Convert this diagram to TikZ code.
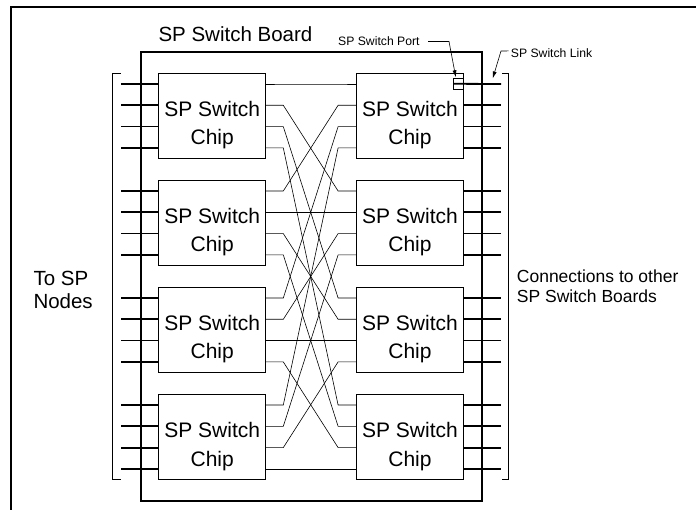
\documentclass[tikz,border=0pt]{standalone}
\usepackage{fontspec}
\setmainfont{Liberation Sans}
\usetikzlibrary{calc,arrows.meta}
\begin{document}
\begin{tikzpicture}[x=1pt,y=1pt,
  chip/.style={draw, line width=0.8pt, minimum width=107pt, minimum height=85pt,
    inner sep=0pt, outer sep=0pt, align=center, font=\fontsize{21}{28.3}\selectfont},
  boardbox/.style={draw, line width=2pt, inner sep=0pt, outer sep=0pt},
  ext/.style={line width=1.8pt},
  wire/.style={line width=0.6pt},
  brk/.style={line width=0.9pt},
  lead/.style={line width=0.6pt},
  tip/.style={-{Latex[length=7pt,width=4pt]}},
  small/.style={font=\fontsize{12.2}{14}\selectfont, inner sep=0pt},
]
\useasboundingbox (0,0) rectangle (696,-510);
% outer frame
\draw[line width=2pt] (11,-512) -- (11,-7.5) -- (697,-7.5);
% board
\node[boardbox, minimum width=341.3pt, minimum height=448.7pt] (board) at (311.35,-276.65) {};
\node[font=\fontsize{20.5}{24}\selectfont, anchor=base west, inner sep=0pt] (title) at (158.3,-41.7) {SP Switch Board};
% chips
\foreach \c in {1,...,4} {
  \node[chip] (L\c) at (212.2,{-115.8-107*(\c-1)}) {\rule{0pt}{35.1pt}SP Switch\\Chip\rule[-5pt]{0pt}{5pt}};
  \node[chip] (R\c) at (410,{-115.8-107*(\c-1)}) {\rule{0pt}{35.1pt}SP Switch\\Chip\rule[-5pt]{0pt}{5pt}};
}
% port coordinates
\foreach \c in {1,...,4} {
  \foreach \k in {1,...,4} {
    \coordinate (L\c w\k) at ($(L\c.north west)+(0,{-10.7-21.3*(\k-1)})$);
    \coordinate (L\c e\k) at ($(L\c.north east)+(0,{-10.7-21.3*(\k-1)})$);
    \coordinate (R\c w\k) at ($(R\c.north west)+(0,{-10.7-21.3*(\k-1)})$);
    \coordinate (R\c e\k) at ($(R\c.north east)+(0,{-10.7-21.3*(\k-1)})$);
  }
}
% port box
\node[draw, line width=0.7pt, minimum width=9.8pt, minimum height=11pt, inner sep=0pt, outer sep=0pt] (port) at (458.4,-83.8) {};
% external links
\foreach \c in {1,...,4} {
  \foreach \k in {1,...,4} {
    \draw[ext] (L\c w\k) -- ++(-38,0);
  }
}
\foreach \c/\k in {1/2,1/3,1/4,2/1,2/2,2/3,2/4,3/1,3/2,3/3,3/4,4/1,4/2,4/3,4/4} {
  \draw[ext] (R\c e\k) -- ++(37.7,0);
}
\draw[ext] (port.west) -- ($(R1e1)+(37.7,0)$);
% internal crossbar
\foreach \i in {1,...,4} {
  \foreach \j in {1,...,4} {
    \draw[wire] (L\i e\j) -- ++(17.6,0) -- ($(R\j w\i)+(-18.4,0)$) -- (R\j w\i);
  }
}
% brackets
\draw[brk] (120.7,-73.3) -- (112.5,-73.3) -- (112.5,-479.3) -- (120.7,-479.3);
\draw[brk] (502,-73.3) -- (508.3,-73.3) -- (508.3,-479.3) -- (502,-479.3);
% labels
\node[small, anchor=base west] (portlbl) at (338,-46) {SP Switch Port};
\node[small, anchor=base west] (linklbl) at (510.7,-57.3) {SP Switch Link};
\draw[lead, tip] (428,-41.5) -- (449,-41.5) -- ([xshift=-2.6pt,yshift=1pt]port.north);
\draw[lead, tip] ([xshift=-2pt,yshift=2pt]linklbl.west) -- (501,-51) -- (492.7,-78.5);
\node[font=\fontsize{20.5}{22.3}\selectfont, align=left, anchor=west, inner sep=0pt] (tosp) at (33.3,-289.65)
  {\rule{0pt}{20pt}To SP\\Nodes\rule[-5pt]{0pt}{5pt}};
\node[font=\fontsize{17.5}{20}\selectfont, align=left, anchor=west, inner sep=0pt] (conn) at (516.7,-286.3)
  {\rule{0pt}{17pt}Connections to other\\SP Switch Boards\rule[-5pt]{0pt}{5pt}};
\end{tikzpicture}
\end{document}
